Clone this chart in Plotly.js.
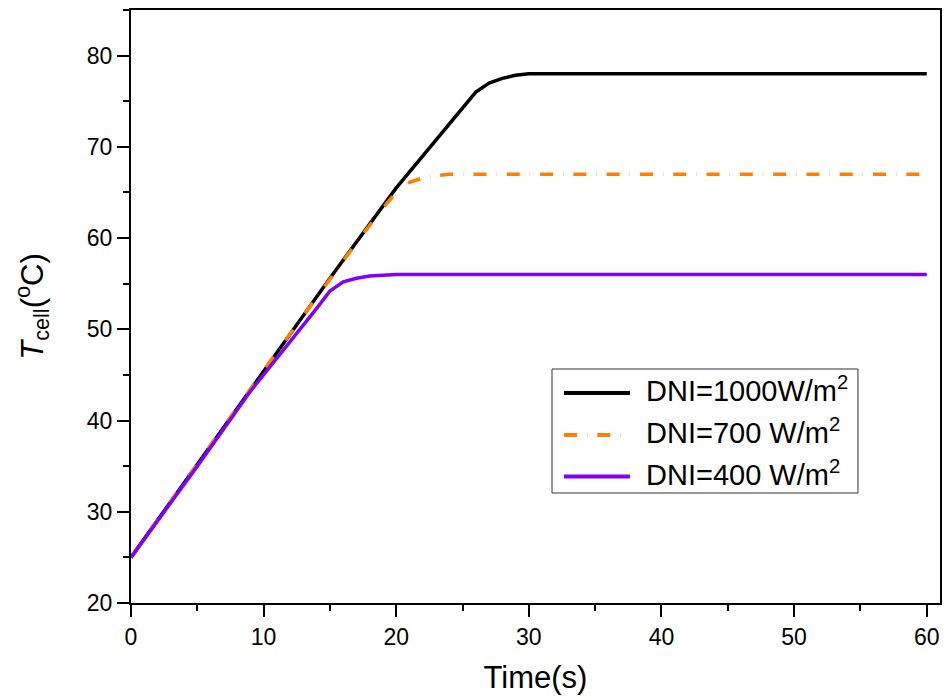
<!DOCTYPE html>
<html>
<head>
<meta charset="utf-8">
<script src="https://cdn.plot.ly/plotly-3.0.1.min.js"></script>
<style>html,body{margin:0;padding:0;background:#fff;}#chart{width:946px;height:700px;}</style>
</head>
<body>
<div id="chart"></div>
<script>
// Data
var seriesNames = ["DNI=1000W/m<sup>2</sup>", "DNI=700 W/m<sup>2</sup>", "DNI=400 W/m<sup>2</sup>"];

var time1000 = [0, 5, 10, 15, 20, 22, 24, 26, 27, 28, 29, 30, 60];
var temp1000 = [25, 35.2, 45.5, 55.6, 65.5, 69, 72.5, 76, 77, 77.5, 77.85, 78, 78];

var time700 = [0, 5, 10, 15, 17, 19, 20, 21, 22, 23, 24, 60];
var temp700 = [25, 35.2, 45.5, 55.5, 59.5, 63.3, 65, 66.1, 66.6, 66.85, 67, 67];

var time400 = [0, 5, 9, 10, 11, 12, 13, 14, 15, 16, 17, 18, 20, 60];
var temp400 = [25, 35, 43.2, 45, 46.9, 48.7, 50.5, 52.3, 54.2, 55.2, 55.6, 55.85, 56, 56];

var xTickVals = [0, 10, 20, 30, 40, 50, 60];
var yTickVals = [20, 30, 40, 50, 60, 70, 80];

var FONT = "Liberation Sans, Arial, Helvetica, sans-serif";

var lineStyles = [
  {color: "#000000", width: 3.5, dash: "solid"},
  {color: "#FF8000", width: 3.5, dash: "13px,10px,0.3px,10px"},
  {color: "#8000FF", width: 3.5, dash: "solid"}
];

var xs = [time1000, time700, time400];
var ys = [temp1000, temp700, temp400];

var traces = xs.map(function (x, i) {
  return {x: x, y: ys[i], name: seriesNames[i], mode: "lines", line: lineStyles[i], showlegend: false};
});

// Legend drawn in paper coordinates (longer line samples like the reference)
var legBox = {x0: 0.5204, x1: 0.8986, y0: 0.1855, y1: 0.3946};
var legLineX = [0.5352, 0.6168];
var legTextX = 0.6335;
var legRowY = [0.3541, 0.2833, 0.2133];
var legTextShift = 0.006;

var shapes = [{
  type: "rect", xref: "paper", yref: "paper",
  x0: legBox.x0, x1: legBox.x1, y0: legBox.y0, y1: legBox.y1,
  line: {color: "#333", width: 1}, fillcolor: "#fff", layer: "above"
}];
var annotations = [];
seriesNames.forEach(function (name, i) {
  shapes.push({
    type: "line", xref: "paper", yref: "paper",
    x0: legLineX[0], x1: legLineX[1], y0: legRowY[i], y1: legRowY[i],
    line: {color: lineStyles[i].color, width: 4, dash: lineStyles[i].dash},
    layer: "above"
  });
  annotations.push({
    xref: "paper", yref: "paper", x: legTextX, y: legRowY[i] + legTextShift,
    xanchor: "left", yanchor: "middle", showarrow: false,
    text: name, font: {family: FONT, size: 29, color: "#000"}
  });
});

var axisCommon = {
  showline: true, linecolor: "#000", linewidth: 2, mirror: true,
  ticks: "outside", ticklen: 12, tickwidth: 2, tickcolor: "#000",
  showgrid: false, zeroline: false,
  tickfont: {family: FONT, size: 23, color: "#000"}
};

var layout = {
  width: 946, height: 700,
  margin: {l: 131, r: 6, t: 10, b: 97},
  paper_bgcolor: "#fff", plot_bgcolor: "#fff",
  font: {family: FONT, color: "#000"},
  showlegend: false,
  shapes: shapes,
  annotations: annotations,
  xaxis: Object.assign({}, axisCommon, {
    range: [0, 61], tickvals: xTickVals,
    minor: {dtick: 5, ticks: "outside", ticklen: 6, tickwidth: 2, tickcolor: "#000"},
    title: {text: "Time(s)", font: {family: FONT, size: 31, color: "#000"}, standoff: 18}
  }),
  yaxis: Object.assign({}, axisCommon, {
    range: [20, 85], tickvals: yTickVals,
    minor: {dtick: 5, ticks: "outside", ticklen: 6, tickwidth: 2, tickcolor: "#000"},
    title: {text: "<i>T</i><sub>cell</sub>(<sup>o</sup>C)", font: {family: FONT, size: 31, color: "#000"}, standoff: 34}
  })
};

Plotly.newPlot("chart", traces, layout, {displayModeBar: false, staticPlot: true});
</script>
</body>
</html>
